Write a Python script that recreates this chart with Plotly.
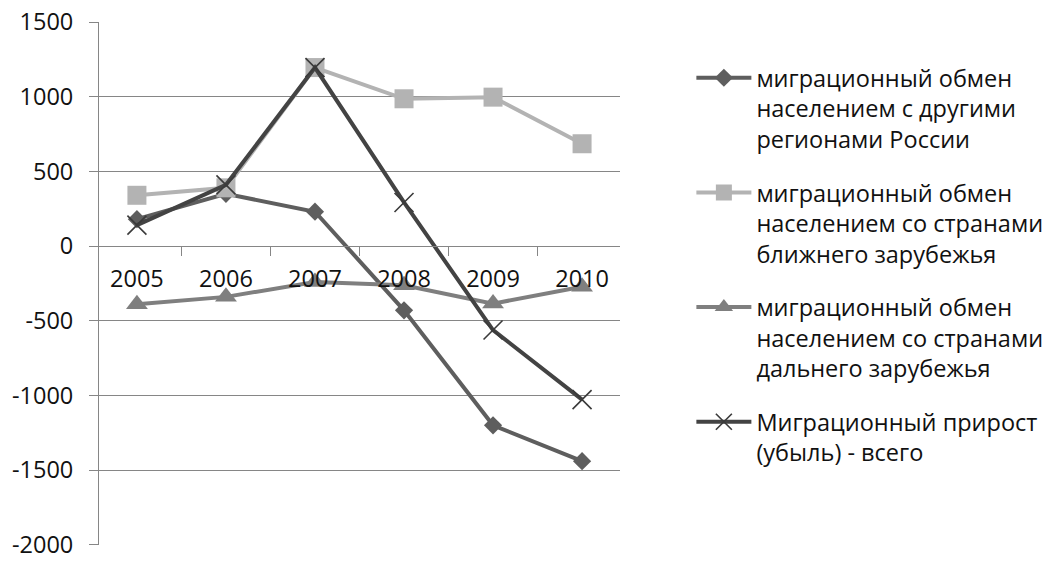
import plotly.graph_objects as go

years = ["2005", "2006", "2007", "2008", "2009", "2010"]
regions_russia = [180, 350, 230, -430, -1200, -1440]
near_abroad = [340, 390, 1195, 986, 997, 685]
far_abroad = [-390, -340, -240, -262, -385, -272]
total_growth = [140, 410, 1195, 292, -562, -1028]

y_tick_values = [1500, 1000, 500, 0, -500, -1000, -1500, -2000]
y_tick_labels = ["1500", "1000", "500", "0", "-500", "-1000", "-1500", "-2000"]

names = [
    "миграционный обмен<br>населением с другими<br>регионами России",
    "миграционный обмен<br>населением со странами<br>ближнего зарубежья",
    "миграционный обмен<br>населением со странами<br>дальнего зарубежья",
    "Миграционный прирост<br>(убыль) - всего",
]

FONT = "Open Sans"
FS = 23.5

fig = go.Figure()

fig.add_trace(go.Scatter(
    x=years, y=regions_russia, name=names[0], mode="lines+markers",
    line=dict(color="#5e5e5e", width=4),
    marker=dict(symbol="diamond", size=14, color="#5e5e5e"),
    legendgroup="a",
))
fig.add_trace(go.Scatter(
    x=years, y=near_abroad, name=names[1], mode="lines+markers",
    line=dict(color="#b3b3b3", width=4),
    marker=dict(symbol="square", size=19, color="#b3b3b3"),
    legendgroup="b",
))
fig.add_trace(go.Scatter(
    x=years, y=far_abroad, name=names[2], mode="lines+markers",
    line=dict(color="#7f7f7f", width=4),
    marker=dict(symbol="triangle-up", size=19, color="#7f7f7f"),
    legendgroup="c",
))
fig.add_trace(go.Scatter(
    x=years, y=total_growth, name=names[3], mode="lines+markers",
    line=dict(color="#434343", width=4),
    marker=dict(symbol="x-thin", size=19, color="#3a3a3a",
                line=dict(width=1.6, color="#3a3a3a")),
    legendgroup="d",
))

fig.update_layout(
    width=1045, height=562,
    margin=dict(l=99, r=425, t=22, b=17, autoexpand=False),
    paper_bgcolor="white", plot_bgcolor="white",
    font=dict(family=FONT, size=FS, color="#111111"),
    showlegend=True,
    legend=dict(
        x=1.137, y=0.935, xanchor="left", yanchor="top",
        font=dict(family=FONT, size=FS, color="#111111"),
        itemwidth=55, valign="top", traceorder="grouped",
        tracegroupgap=20, bgcolor="rgba(0,0,0,0)",
    ),
    xaxis=dict(
        type="category", anchor="free", position=2000 / 3500,
        showline=True, linecolor="#868686", linewidth=1,
        ticks="outside", ticklen=9, tickcolor="#868686", tickwidth=1,
        tickson="boundaries", showgrid=False, zeroline=False,
        ticklabelstandoff=12, automargin=False,
        tickfont=dict(family=FONT, size=FS, color="#111111"),
    ),
    yaxis=dict(
        range=[-2001, 1500], tickmode="array",
        tickvals=y_tick_values, ticktext=y_tick_labels,
        showline=True, linecolor="#868686", linewidth=1,
        showgrid=True, gridcolor="#868686", gridwidth=1,
        ticks="outside", ticklen=9, tickcolor="#868686", tickwidth=1,
        zeroline=False, ticklabelstandoff=11, automargin=False,
        ticklabeloverflow="allow",
        tickfont=dict(family=FONT, size=FS, color="#111111"),
    ),
)

fig.write_html(
    "out.html",
    config={"displayModeBar": False},
    post_script="document.body.style.margin='0';document.body.style.overflow='hidden';",
)
